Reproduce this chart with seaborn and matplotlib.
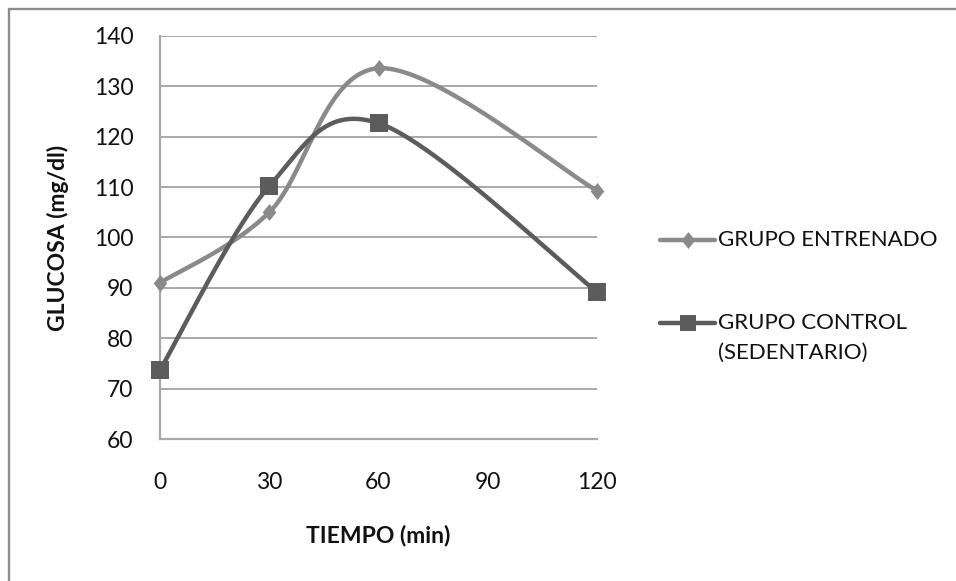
import numpy as np
import pandas as pd
import matplotlib
matplotlib.use("Agg")
import matplotlib.pyplot as plt
import seaborn as sns
from matplotlib.lines import Line2D

# Glucose curve data (mg/dl) at each sampling time (min)
tiempo = [0, 30, 60, 120]
entrenado = [91.0, 105.0, 133.6, 109.3]
control = [73.7, 110.2, 122.7, 89.2]
series_names = ["GRUPO ENTRENADO", "GRUPO CONTROL\n(SEDENTARIO)"]
x_ticks = [0, 30, 60, 90, 120]
y_ticks = [60, 70, 80, 90, 100, 110, 120, 130, 140]
x_title = "TIEMPO (min)"
y_title = "GLUCOSA (mg/dl)"

COL_ENT = "#8a8a8a"
COL_CTL = "#5c5c5c"
GRID = "#a8a8a8"
TXT = "#111111"
FONT = ["Lato", "DejaVu Sans"]

sns.set_style("white")
plt.rcParams["font.family"] = FONT


def smooth_curve(x, y, n=80):
    """Cubic Bezier smoothing through every point (spreadsheet-style)."""
    pts = np.column_stack([x, y]).astype(float)
    ext = np.vstack([pts[0], pts, pts[-1]])
    t = np.linspace(0, 1, n)[:, None]
    out = []
    for i in range(len(pts) - 1):
        p0, p1, p2, p3 = ext[i], ext[i + 1], ext[i + 2], ext[i + 3]
        c1 = p1 + (p2 - p0) / 6.0
        c2 = p2 - (p3 - p1) / 6.0
        seg = ((1 - t) ** 3) * p1 + 3 * ((1 - t) ** 2) * t * c1 \
            + 3 * (1 - t) * (t ** 2) * c2 + (t ** 3) * p2
        out.append(seg if i == 0 else seg[1:])
    return np.vstack(out)


W, H = 956, 581
fig = plt.figure(figsize=(W / 100, H / 100), dpi=100)
ax = fig.add_axes([160 / W, 1 - 439 / H, 437 / W, 403 / H])

diamond = [(0, 1), (0.8, 0), (0, -1), (-0.8, 0)]
series = [
    (series_names[0], entrenado, COL_ENT, diamond),
    (series_names[1], control, COL_CTL, "s"),
]

for name, vals, col, mk in series:
    curve = smooth_curve(tiempo, vals)
    df_line = pd.DataFrame({"x": curve[:, 0], "y": curve[:, 1]})
    sns.lineplot(data=df_line, x="x", y="y", sort=False, estimator=None,
                 color=col, linewidth=3.2, ax=ax, clip_on=False, zorder=3)
    df_pts = pd.DataFrame({"x": tiempo, "y": vals})
    sns.scatterplot(data=df_pts, x="x", y="y", marker=mk, s=150, color=col,
                    edgecolor=col, linewidth=0, ax=ax, clip_on=False, zorder=4)

ax.set_xlim(0, 120)
ax.set_ylim(60, 140)
ax.set_xticks(x_ticks)
ax.set_yticks(y_ticks)
ax.set_xticklabels([str(v) for v in x_ticks])
ax.set_yticklabels([str(v) for v in y_ticks])
ax.tick_params(axis="both", length=0, labelsize=16.5, colors=TXT)
ax.tick_params(axis="y", pad=19)
ax.tick_params(axis="x", pad=24)

ax.yaxis.grid(True, color=GRID, linewidth=1.4)
ax.xaxis.grid(False)
ax.set_axisbelow(True)
for side in ("top", "right"):
    ax.spines[side].set_visible(False)
for side in ("left", "bottom"):
    ax.spines[side].set_color(GRID)
    ax.spines[side].set_linewidth(1.6)

ax.set_xlabel(x_title, fontsize=16.5, fontweight="bold", color=TXT, va="center")
ax.set_ylabel(y_title, fontsize=16.5, fontweight="bold", color=TXT,
              va="center", ha="center")
ax.xaxis.set_label_coords((378 - 160) / 437, (439 - 535) / 403)
ax.yaxis.set_label_coords((58 - 160) / 437, (439 - 238) / 403)

# Legend drawn at the right of the plot area
def fx(px):
    return px / W


def fy(py):
    return 1 - py / H


leg_rows = [(240, COL_ENT, diamond), (323, COL_CTL, "s")]
for (ypix, col, mk) in leg_rows:
    fig.add_artist(Line2D([fx(660), fx(715)], [fy(ypix), fy(ypix)],
                          transform=fig.transFigure, color=col, linewidth=3.2,
                          solid_capstyle="round"))
    fig.add_artist(Line2D([fx(688)], [fy(ypix)], transform=fig.transFigure,
                          marker=mk, markersize=12.2, color=col,
                          markeredgewidth=0, linestyle="none"))

fig.text(fx(718), fy(240), series_names[0], fontsize=16, va="center",
         ha="left", color=TXT)
lines2 = series_names[1].split("\n")
fig.text(fx(718), fy(323), lines2[0], fontsize=16, va="center", ha="left",
         color=TXT)
fig.text(fx(718), fy(353), lines2[1], fontsize=16, va="center", ha="left",
         color=TXT)

# Chart-area frame (top and left edges visible)
fig.add_artist(Line2D([fx(9), fx(W + 5)], [fy(8.5), fy(8.5)],
                      transform=fig.transFigure, color="#8c8c8c", linewidth=1.7))
fig.add_artist(Line2D([fx(9), fx(9)], [fy(8.5), fy(H + 5)],
                      transform=fig.transFigure, color="#8c8c8c", linewidth=1.7))

fig.savefig("out.png", dpi=100, facecolor="white")
